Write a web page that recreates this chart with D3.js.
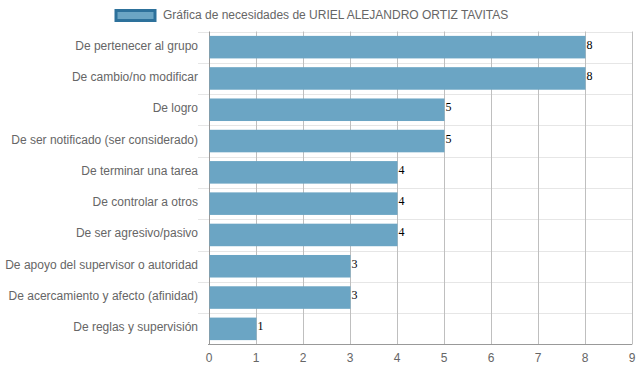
<!DOCTYPE html>
<html><head><meta charset="utf-8">
<script src="https://cdn.jsdelivr.net/npm/d3@7"></script>
<style>body{margin:0;background:#fff}svg{display:block}</style>
</head><body><svg id="c" width="639" height="372"></svg>
<script>
const categories = ["De pertenecer al grupo","De cambio/no modificar","De logro","De ser notificado (ser considerado)","De terminar una tarea","De controlar a otros","De ser agresivo/pasivo","De apoyo del supervisor o autoridad","De acercamiento y afecto (afinidad)","De reglas y supervisión"];
const values = [8,8,5,5,4,4,4,3,3,1];
const xTicks = [0,1,2,3,4,5,6,7,8,9];
const legendLabel = "Gráfica de necesidades de URIEL ALEJANDRO ORTIZ TAVITAS";

const svg = d3.select("#c");
const font = "'Liberation Sans', Arial, sans-serif";
const pL = 209, pR = 632, pT = 31.5, pB = 344.5;
const x = d3.scaleLinear().domain([0,9]).range([pL,pR]);
const y = d3.scaleBand().domain(categories).range([pT,pB]).paddingInner(0.28).paddingOuter(0.14);
const yb = d3.scaleBand().domain(categories).range([pT,pB]);

// horizontal grid lines
const hg = svg.append("g");
categories.forEach((c,i)=>{
  const yy = Math.round(yb(c))+0.5;
  hg.append("line").attr("x1",pL-11).attr("x2",pR).attr("y1",yy).attr("y2",yy).attr("stroke","#e6e6e6");
});
// vertical grid lines
svg.append("g").selectAll("line").data(xTicks).join("line")
  .attr("x1",d=>Math.round(x(d))+0.5).attr("x2",d=>Math.round(x(d))+0.5)
  .attr("y1",pT).attr("y2",pB).attr("stroke",d=>d===0?"#999":"#bfbfbf");
// x axis line
svg.append("line").attr("x1",pL-1).attr("x2",pR).attr("y1",Math.round(pB)-0.5).attr("y2",Math.round(pB)-0.5).attr("stroke","#999");

// bars
svg.append("g").selectAll("rect").data(values).join("rect")
  .attr("x",x(0)+0.5).attr("y",(d,i)=>y(categories[i]))
  .attr("width",d=>x(d)-x(0)).attr("height",y.bandwidth())
  .attr("fill","#6ba5c4");

// value labels
svg.append("g").selectAll("text").data(values).join("text")
  .attr("x",d=>x(d)+1.5).attr("y",(d,i)=>y(categories[i])+y.bandwidth()/2-2.5)
  .attr("dominant-baseline","central")
  .attr("font-family","'Liberation Serif','Times New Roman',serif").attr("font-size",12).attr("fill","#000")
  .text(d=>d);

// y labels
svg.append("g").selectAll("text").data(categories).join("text")
  .attr("x",pL-11).attr("y",c=>y(c)+y.bandwidth()/2-1.5)
  .attr("text-anchor","end").attr("dominant-baseline","central")
  .attr("font-family",font).attr("font-size",12).attr("fill","#666").text(c=>c);

// x tick labels
svg.append("g").selectAll("text").data(xTicks).join("text")
  .attr("x",d=>x(d)).attr("y",358)
  .attr("text-anchor","middle").attr("dominant-baseline","central")
  .attr("font-family",font).attr("font-size",12).attr("fill","#666").text(d=>d);

// legend
svg.append("rect").attr("x",116).attr("y",10.5).attr("width",39).attr("height",10)
  .attr("fill","#6ba5c4").attr("stroke","#2d719b").attr("stroke-width",3);
svg.append("text").attr("x",163).attr("y",15).attr("dominant-baseline","central")
  .attr("font-family",font).attr("font-size",12).attr("fill","#666").text(legendLabel);
</script></body></html>
